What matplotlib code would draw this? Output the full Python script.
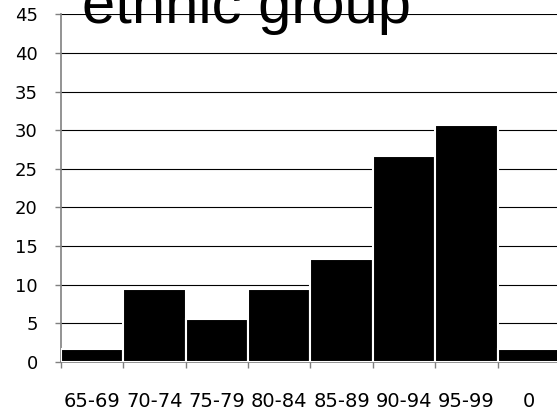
import matplotlib
matplotlib.use("Agg")
import matplotlib.pyplot as plt
import numpy as np

plt.rcParams['font.family'] = ['Liberation Sans', 'DejaVu Sans']

age_groups = ["65-69", "70-74", "75-79", "80-84", "85-89", "90-94", "95-99", "0"]
percent = [1.6, 9.4, 5.5, 9.4, 13.3, 26.7, 30.6, 1.6]
y_ticks = [0, 5, 10, 15, 20, 25, 30, 35, 40, 45]

fig = plt.figure(figsize=(5.57, 4.12), dpi=100)
ax = fig.add_axes([60.7 / 557, (412 - 361.7) / 412, 499.3 / 557, 347.4 / 412])

x = np.arange(len(age_groups))
ax.bar(x, percent, width=1.0, color="black", edgecolor="white", linewidth=1.5, zorder=3)

ax.set_xlim(-0.5, len(age_groups) - 0.5)
ax.set_ylim(0, 45)
ax.set_yticks(y_ticks)
ax.set_yticklabels([str(t) for t in y_ticks], family="DejaVu Sans", fontsize=13)
ax.yaxis.grid(True, color="black", linewidth=0.8, zorder=0)
ax.set_axisbelow(True)

# ticks sit on the category boundaries, labels in the middle
ax.set_xticks(np.arange(len(age_groups) + 1) - 0.5)
ax.set_xticklabels([])
ax.set_xticks(x, minor=True)
ax.set_xticklabels(age_groups, minor=True, family="DejaVu Sans", fontsize=14)
ax.tick_params(axis="x", which="major", length=4.3, color="#808080", width=1)
ax.tick_params(axis="x", which="minor", length=0, pad=21.5)
ax.tick_params(axis="y", length=4.5, color="#808080", width=1, pad=12)

for side in ["top", "right"]:
    ax.spines[side].set_visible(False)
for side in ["left", "bottom"]:
    ax.spines[side].set_color("#808080")
    ax.spines[side].set_linewidth(1.2)

fig.text(246 / 557, (412 - 22.7) / 412, "ethnic group", fontsize=43,
         ha="center", va="baseline", zorder=10)

fig.savefig("out.png", dpi=100)
